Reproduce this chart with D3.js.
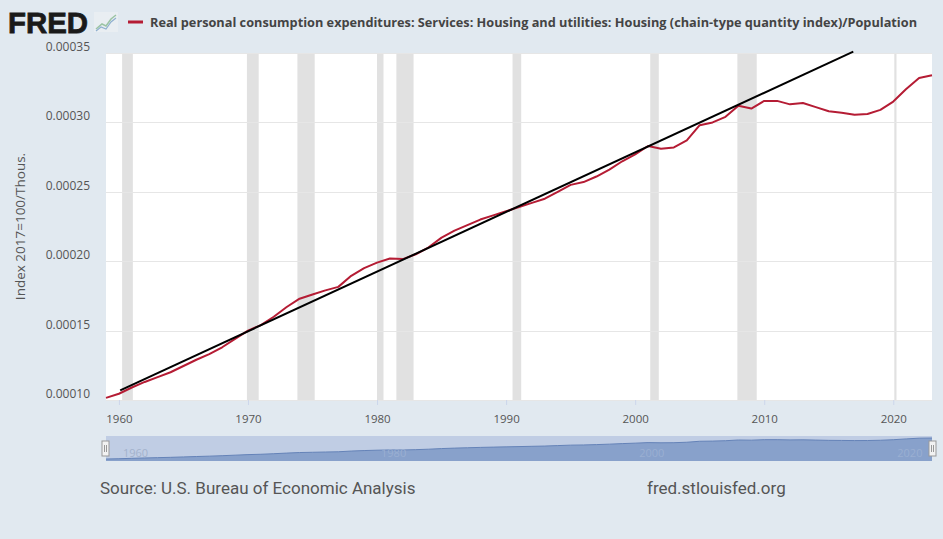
<!DOCTYPE html>
<html>
<head>
<meta charset="utf-8">
<script src="https://cdn.jsdelivr.net/npm/d3@7"></script>
<style>
  body { margin: 0; background: #e1e9f0; }
  svg { display: block; }
</style>
</head>
<body>
<script>
// series data (annual)
var years = [1959, 1960, 1961, 1962, 1963, 1964, 1965, 1966, 1967, 1968, 1969,
  1970, 1971, 1972, 1973, 1974, 1975, 1976, 1977, 1978, 1979,
  1980, 1981, 1982, 1983, 1984, 1985, 1986, 1987, 1988, 1989,
  1990, 1991, 1992, 1993, 1994, 1995, 1996, 1997, 1998, 1999,
  2000, 2001, 2002, 2003, 2004, 2005, 2006, 2007, 2008, 2009,
  2010, 2011, 2012, 2013, 2014, 2015, 2016, 2017, 2018, 2019,
  2020, 2021, 2022, 2023];
var values = [0.0001015, 0.0001045, 0.0001090, 0.0001130, 0.0001165, 0.0001200, 0.0001245, 0.0001290, 0.0001330, 0.0001380, 0.0001440,
  0.0001500, 0.0001540, 0.0001600, 0.0001670, 0.0001730, 0.0001760, 0.0001790, 0.0001815, 0.0001895, 0.0001950,
  0.0001990, 0.0002020, 0.0002015, 0.0002050, 0.0002100, 0.0002170, 0.0002220, 0.0002260, 0.0002300, 0.0002330,
  0.0002360, 0.0002390, 0.0002420, 0.0002450, 0.0002500, 0.0002550, 0.0002570, 0.0002610, 0.0002660, 0.0002720,
  0.0002770, 0.0002830, 0.0002810, 0.0002820, 0.0002870, 0.0002980, 0.0003000, 0.0003040, 0.0003120, 0.0003100,
  0.0003155, 0.0003155, 0.0003130, 0.0003140, 0.0003110, 0.0003080, 0.0003070, 0.0003055, 0.0003060, 0.0003090,
  0.0003150, 0.0003240, 0.0003320, 0.0003340];

// trend line drawn over the series
var trendYears = [1960.1, 2016.9];
var trendValues = [0.000107, 0.000351];

// recession periods (start, end) as fractional years
var recessions = [[1960.25, 1961.08], [1969.92, 1970.83], [1973.83, 1975.17], [1980.0, 1980.5],
  [1981.5, 1982.83], [1990.5, 1991.17], [2001.17, 2001.83], [2007.92, 2009.42], [2020.08, 2020.25]];

var yTicks = [0.00010, 0.00015, 0.00020, 0.00025, 0.00030, 0.00035];
var xTicks = [1960, 1970, 1980, 1990, 2000, 2010, 2020];
var navTicks = [1960, 1980, 2000, 2020];

var title = "Real personal consumption expenditures: Services: Housing and utilities: Housing (chain-type quantity index)/Population";
var yTitle = "Index 2017=100/Thous.";

var W = 943, H = 539;
var plot = {left: 106, right: 932, top: 53, bottom: 400};

var svg = d3.select("body").append("svg")
  .attr("width", W)
  .attr("height", H);

svg.append("rect").attr("width", W).attr("height", H).attr("fill", "#e1e9f0");

var x = d3.scaleLinear()
  .domain([years[0], years[years.length - 1]])
  .range([plot.left, plot.right]);

var y = d3.scaleLinear()
  .domain([0.00010, 0.00035])
  .range([plot.bottom, plot.top]);

// plot background
svg.append("rect")
  .attr("x", plot.left).attr("y", plot.top)
  .attr("width", plot.right - plot.left)
  .attr("height", plot.bottom - plot.top)
  .attr("fill", "#ffffff");

// recession shading
svg.append("g").selectAll("rect")
  .data(recessions)
  .enter().append("rect")
    .attr("x", d => x(d[0]))
    .attr("width", d => Math.max(1.5, x(d[1]) - x(d[0])))
    .attr("y", plot.top)
    .attr("height", plot.bottom - plot.top)
    .attr("fill", "#e1e1e1");

// horizontal grid
svg.append("g").selectAll("line")
  .data(yTicks)
  .enter().append("line")
    .attr("x1", plot.left).attr("x2", plot.right)
    .attr("y1", d => Math.round(y(d)) + 0.5)
    .attr("y2", d => Math.round(y(d)) + 0.5)
    .attr("stroke", "#e6e6e6");

// y tick labels
svg.append("g").selectAll("text")
  .data(yTicks)
  .enter().append("text")
    .attr("x", 90)
    .attr("y", d => y(d) - 2)
    .attr("text-anchor", "end")
    .attr("font-family", "Open Sans")
    .attr("font-size", 12)
    .attr("fill", "#555")
    .text(d => d3.format(".5f")(d));

// y axis title
svg.append("text")
  .attr("transform", "translate(25," + ((plot.top + plot.bottom) / 2) + ") rotate(-90)")
  .attr("text-anchor", "middle")
  .attr("font-family", "Open Sans")
  .attr("font-size", 13.5)
  .attr("fill", "#555")
  .text(yTitle);

// x axis
var xAxis = svg.append("g")
  .attr("transform", "translate(0," + plot.bottom + ")")
  .call(d3.axisBottom(x).tickValues(xTicks).tickFormat(d3.format("d")).tickSize(5).tickSizeOuter(0));
xAxis.select(".domain").remove();
xAxis.selectAll(".tick line").attr("stroke", "#ccd6eb");
xAxis.selectAll(".tick text")
  .attr("font-family", "Open Sans")
  .attr("font-size", 11.5)
  .attr("fill", "#555")
  .attr("dy", "1.3em");

// series line
var line = d3.line()
  .x((d, i) => x(years[i]))
  .y(d => y(d));

svg.append("path")
  .datum(values)
  .attr("d", line)
  .attr("fill", "none")
  .attr("stroke", "#b51c34")
  .attr("stroke-width", 2)
  .attr("stroke-linejoin", "round");

// trend line
svg.append("path")
  .datum(trendValues)
  .attr("d", d3.line().x((d, i) => x(trendYears[i])).y(d => y(d)))
  .attr("fill", "none")
  .attr("stroke", "#000")
  .attr("stroke-width", 2);

// header: FRED logo + legend title
svg.append("text")
  .attr("x", 8).attr("y", 33)
  .attr("font-family", "Liberation Sans, Arial, sans-serif")
  .attr("font-weight", 900)
  .attr("font-size", 30)
  .attr("textLength", 80)
  .attr("lengthAdjust", "spacingAndGlyphs")
  .attr("fill", "#1a1a1a")
  .attr("stroke", "#1a1a1a")
  .attr("stroke-width", 0.8)
  .text("FRED");

var icon = svg.append("g").attr("transform", "translate(94,12)");
icon.append("rect").attr("width", 24).attr("height", 20).attr("fill", "#e9eef2");
icon.append("path").attr("d", "M2,17 L8,12 L12,14 L17,7 L22,3")
  .attr("fill", "none").attr("stroke", "#9bc4a4").attr("stroke-width", 1.5);
icon.append("path").attr("d", "M2,19 L7,15 L12,17 L17,10 L22,6")
  .attr("fill", "none").attr("stroke", "#8fb0cf").attr("stroke-width", 1.2);

svg.append("line")
  .attr("x1", 128).attr("x2", 143)
  .attr("y1", 22).attr("y2", 22)
  .attr("stroke", "#b51c34").attr("stroke-width", 3);

svg.append("text")
  .attr("x", 150).attr("y", 27)
  .attr("font-family", "Open Sans")
  .attr("font-weight", "bold")
  .attr("font-size", 13)
  .attr("textLength", 767)
  .attr("lengthAdjust", "spacingAndGlyphs")
  .attr("fill", "#444")
  .text(title);

// navigator
var nav = {top: 436, bottom: 461};
svg.append("rect")
  .attr("x", plot.left).attr("y", nav.top)
  .attr("width", plot.right - plot.left)
  .attr("height", nav.bottom - nav.top)
  .attr("fill", "#c0cde4");

var ny = d3.scaleLinear()
  .domain(d3.extent(values))
  .range([nav.bottom - 2, nav.top + 2]);

svg.append("path")
  .datum(values)
  .attr("d", d3.area().x((d, i) => x(years[i])).y0(nav.bottom).y1(d => ny(d)))
  .attr("fill", "#88a1cb");

svg.append("path")
  .datum(values)
  .attr("d", d3.line().x((d, i) => x(years[i])).y(d => ny(d)))
  .attr("fill", "none")
  .attr("stroke", "#6583b8")
  .attr("stroke-width", 1);

svg.append("g").selectAll("text")
  .data(navTicks)
  .enter().append("text")
    .attr("x", d => x(d) + 4)
    .attr("y", nav.bottom - 4)
    .attr("font-family", "Open Sans")
    .attr("font-size", 11)
    .attr("fill", d => d === 1960 ? "#a3b2cc" : "#9aafd2")
    .text(d => d);

// navigator handles
svg.append("g").selectAll("rect")
  .data([plot.left - 4, plot.right - 3])
  .enter().append("rect")
    .attr("x", d => d)
    .attr("y", 441)
    .attr("width", 7)
    .attr("height", 15)
    .attr("fill", "#f2f2f2")
    .attr("stroke", "#999")
    .attr("stroke-width", 1);
svg.append("g").selectAll("path")
  .data([plot.left - 4, plot.right - 3])
  .enter().append("path")
    .attr("d", d => "M" + (d + 2.5) + ",445 V452 M" + (d + 4.5) + ",445 V452")
    .attr("stroke", "#999")
    .attr("stroke-width", 1);

// footer
svg.append("text")
  .attr("x", 100).attr("y", 494)
  .attr("font-family", "Roboto")
  .attr("font-size", 17)
  .attr("fill", "#555")
  .text("Source: U.S. Bureau of Economic Analysis");

svg.append("text")
  .attr("x", 647).attr("y", 494)
  .attr("font-family", "Roboto")
  .attr("font-size", 17)
  .attr("fill", "#555")
  .text("fred.stlouisfed.org");
</script>
</body>
</html>
